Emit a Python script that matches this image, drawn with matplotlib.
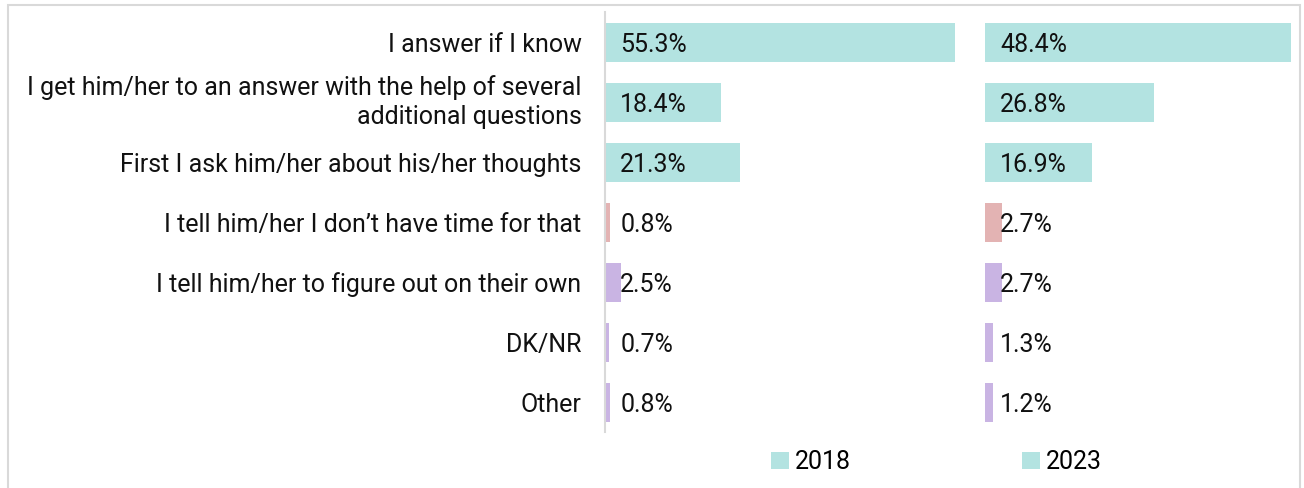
import matplotlib
matplotlib.use("Agg")
import matplotlib.pyplot as plt
from matplotlib.patches import Patch, Rectangle

plt.rcParams['font.family'] = ['Roboto', 'DejaVu Sans']

categories = [
    "I answer if I know",
    "I get him/her to an answer with the help of several\nadditional questions",
    "First I ask him/her about his/her thoughts",
    "I tell him/her I don\u2019t have time for that",
    "I tell him/her to figure out on their own",
    "DK/NR",
    "Other",
]
values_2018 = [55.3, 18.4, 21.3, 0.8, 2.5, 0.7, 0.8]
values_2023 = [48.4, 26.8, 16.9, 2.7, 2.7, 1.3, 1.2]
labels_2018 = ["55.3%", "18.4%", "21.3%", "0.8%", "2.5%", "0.7%", "0.8%"]
labels_2023 = ["48.4%", "26.8%", "16.9%", "2.7%", "2.7%", "1.3%", "1.2%"]
years = ["2018", "2023"]

TEAL = "#b3e3e1"
PINK = "#e3b3b3"
LAV = "#c9b4e3"
bar_colors = [TEAL, TEAL, TEAL, PINK, LAV, LAV, LAV]
GRAY = "#d9d9d9"
FS = 18

W, H = 1304, 488
fig = plt.figure(figsize=(W / 100, H / 100), dpi=100)

bottom = (H - 432) / H
height = 420 / H
ax1 = fig.add_axes([605 / W, bottom, 350 / W, height])
ax2 = fig.add_axes([985 / W, bottom, 306 / W, height])

ypos = list(range(len(categories)))
for ax, vals, labs in ((ax1, values_2018, labels_2018), (ax2, values_2023, labels_2023)):
    ax.barh(ypos, vals, height=0.65, color=bar_colors)
    ax.set_xlim(0, max(vals))
    ax.set_ylim(len(categories) - 0.5, -0.5)
    ax.set_xticks([])
    for s in ax.spines.values():
        s.set_visible(False)
    for y, lab in zip(ypos, labs):
        ax.annotate(lab, (0, y), xytext=(11, 0), textcoords="offset points",
                    ha="left", va="center_baseline", fontsize=FS, color="#111111")

ax1.spines['left'].set_visible(True)
ax1.spines['left'].set_color(GRAY)
ax1.spines['left'].set_linewidth(1.5)
ax1.set_yticks(ypos)
ax1.set_yticklabels(categories, fontsize=FS, color="#111111", ha="right",
                    va="center_baseline", linespacing=1.3)
for t in ax1.get_yticklabels():
    if "\n" in t.get_text():
        t.set_va("center")
ax1.tick_params(axis='y', length=0, pad=17)
ax2.set_yticks([])

# legends
for x, yr in ((774, years[0]), (1025, years[1])):
    fig.legend(handles=[Patch(facecolor=TEAL, edgecolor='none', label=yr)],
               loc="center left", bbox_to_anchor=(x / W - 0.002, (H - 462) / H),
               frameon=False, fontsize=FS, handlelength=0.7, handleheight=0.7,
               handletextpad=0.25, borderpad=0, borderaxespad=0)

# figure border
fig.patches.append(Rectangle((7.5 / W, -0.1), (1300 - 7.5) / W, (H - 5.5) / H + 0.1,
                             transform=fig.transFigure, fill=False,
                             edgecolor=GRAY, linewidth=1.5, zorder=0))

fig.savefig("out.png", dpi=100)
